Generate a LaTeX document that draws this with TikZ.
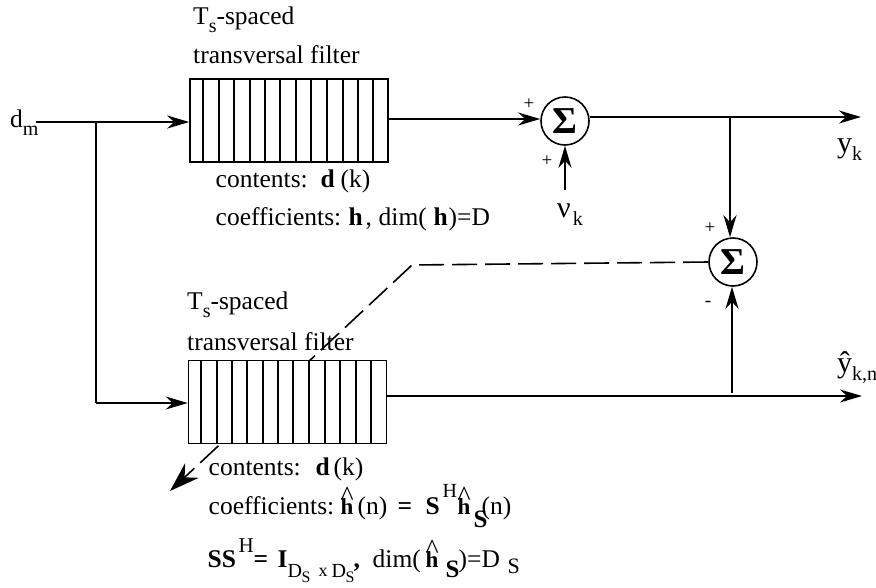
\documentclass[tikz,border=0pt]{standalone}
\usepackage{fontspec}
\setmainfont{Liberation Serif}
\usetikzlibrary{arrows.meta}
\newcommand{\subtx}[1]{\raisebox{-8pt}{\fontsize{20}{20}\selectfont #1}}
\newcommand{\pa}[2]{\makebox[0pt][l]{\hspace{#1pt}#2}}
\newcommand{\rb}[3]{\raisebox{#1pt}{\fontsize{#2}{#2}\selectfont #3}}
\newcommand{\hath}{{\fontsize{23}{23}\selectfont\textbf{h}}\llap{\raisebox{9pt}{\makebox[12.8pt][c]{\fontsize{28}{28}\selectfont\^{}}}}}
\tikzset{
  x=1pt,y=-1pt,
  wire/.style={line width=1.6pt,-{Stealth[length=22pt,width=13pt,inset=7pt]}},
  plain/.style={line width=1.6pt},
  dashwire/.style={line width=1.6pt,dash pattern=on 25pt off 8pt,-{Stealth[length=30pt,width=20pt,inset=10pt]}},
  filterbox/.style={draw,line width=1.6pt,fill=white,inner sep=0pt,minimum width=198pt,minimum height=83pt},
  cell/.style={line width=1.1pt},
  summer/.style={draw,circle,line width=1.6pt,minimum size=48pt,inner sep=0pt,font=\fontsize{38}{38}\selectfont\bfseries},
  txt/.style={anchor=base west,inner sep=0pt,font=\fontsize{25.5}{26}\selectfont},
  sign/.style={inner sep=0pt,font=\fontsize{19}{19}\selectfont}
}
\begin{document}
\begin{tikzpicture}
\useasboundingbox (0,0) rectangle (876,587);
% summers
\node[summer] (s1) at (565,121) {Σ};
\node[summer] (s2) at (733,262) {Σ};
% dashed adaptation path runs beneath the lower filter
\coordinate (knee) at (412,265);
\coordinate (adapt) at (170,491);
\draw[dashwire] (s2.west) -- (knee) -- (adapt);
% filters
\node[filterbox] (f1) at (289,120.5) {};
\node[filterbox] (f2) at (287.5,402) {};
\foreach \x in {203,219,234,250,265,280,296,311,327,343,358,373}
  \draw[cell] (\x,79) -- (\x,162);
\foreach \x in {201,217,232,247,263,278,293,309,325,340,356,371}
  \draw[cell] (\x,360.5) -- (\x,443.5);
% junctions and free ends
\coordinate (in) at (36,122);
\coordinate (split) at (96,122);
\coordinate (low) at (96,403);
\coordinate (nu) at (565,190);
\coordinate (yout) at (861,117);
\coordinate (ytap) at (730,117);
\coordinate (zout) at (862,396);
\coordinate (ztap) at (732,396);
% connectors
\draw[wire] (in) -- (f1.west |- in);
\draw[plain] (split) -- (low);
\draw[wire] (low) -- (f2.west |- low);
\draw[wire] (f1.east |- 0,119) -- (s1.west |- 0,119);
\draw[wire] (nu) -- (s1.south);
\draw[wire] (s1.east |- yout) -- (yout);
\draw[wire] (ytap) -- (s2.north -| ytap);
\draw[wire] (f2.east |- zout) -- (zout);
\draw[wire] (ztap |- 0,393) -- (s2.south -| ztap);
% labels
\node[txt] (t1) at (193,24) {T\subtx{s}-spaced};
\node[txt] (t2) at (193,63) {transversal filter};
\node[txt] (c1) at (215,187) {\pa{0}{contents:}\pa{105}{\textbf{d}}\pa{125}{(k)}};
\node[txt] (c2) at (215,225) {\pa{0}{coefficients:}\pa{133}{\textbf{h}}\pa{150}{,}\pa{163}{dim(}\pa{218}{\textbf{h}}\pa{233}{)=D}};
\node[txt] (dm) at (10,127) {d\subtx{m}};
\node[txt] (nuk) at (557,217) {\fontsize{30}{30}\selectfont ν\hspace{2pt}\subtx{k}};
\node[txt] (yk) at (837,152) {\fontsize{30}{30}\selectfont y\subtx{k}};
\node[txt] (yhat) at (837,372) {\fontsize{30}{30}\selectfont \^y\subtx{k,n}};
\node[sign] (p1) at (529,104) {+};
\node[sign] (p2) at (547,161) {+};
\node[sign] (p3) at (710,228) {+};
\node[sign] (m1) at (708,304) {-};
\node[txt] (t3) at (187,309) {T\subtx{s}-spaced};
\node[txt] (t4) at (187,350) {transversal filter};
\node[txt] (c3) at (208,475) {\pa{0}{contents:}\pa{107}{\textbf{d}}\pa{125}{(k)}};
\node[txt] (c4) at (208,514) {\pa{0}{coefficients:}\pa{132}{\hath}\pa{149}{(n)}\pa{189}{\textbf{=}}\pa{217}{\textbf{S}}\pa{234}{\rb{17}{20}{H}}\pa{249}{\hath}\pa{265}{\rb{-13}{25}{\textbf{S}}}\pa{273}{(n)}};
\node[txt] (c5) at (207,567) {\pa{0}{\textbf{SS}}\pa{31}{\rb{15}{21}{H}}\pa{46}{\textbf{=}}\pa{70}{\textbf{I}}\pa{80}{\rb{-10}{20}{D}}\pa{94}{\rb{-15}{16}{S}}\pa{111}{\rb{-9}{18}{x}}\pa{124}{\rb{-10}{20}{D}}\pa{138}{\rb{-15}{16}{S}}\pa{146}{\textbf{,}}\pa{165}{dim(}\pa{218}{\hath}\pa{238}{\rb{-10}{25}{\textbf{S}}}\pa{251}{)=D}\pa{300}{\rb{-6}{22}{S}}};
\end{tikzpicture}
\end{document}
